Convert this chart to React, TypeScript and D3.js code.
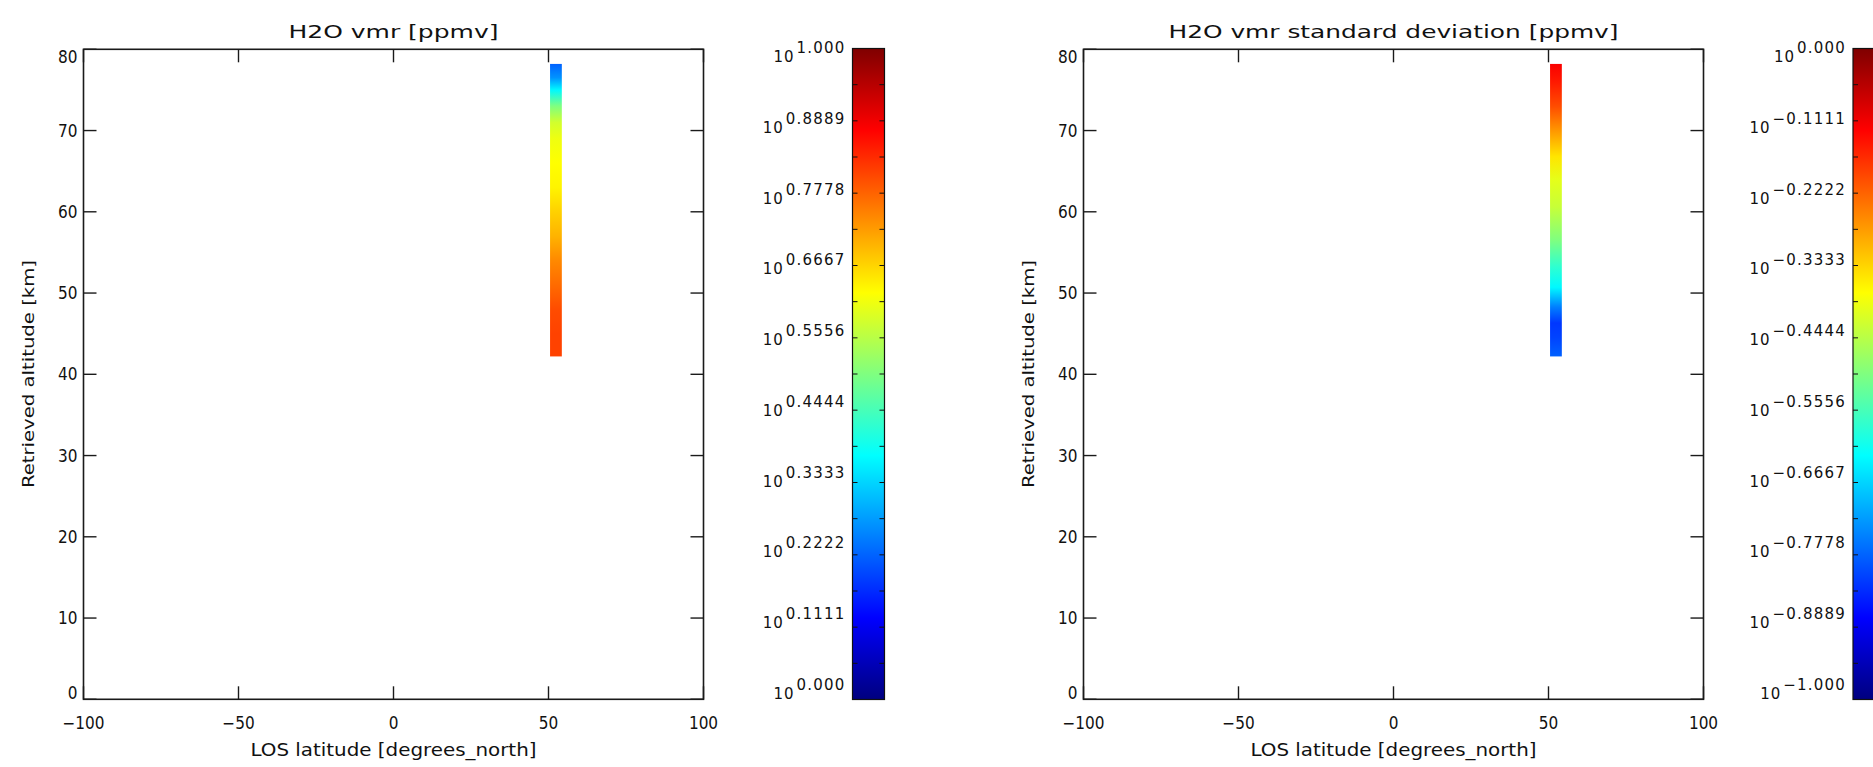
import React from 'react';
import * as d3 from 'd3';

// ---- data ----
const latTicks = [-100, -50, 0, 50, 100];
const altTicks = [0, 10, 20, 30, 40, 50, 60, 70, 80];
const profileLat = 52.4;
const profileLatWidth = 3.8;

const vmrAltitudes = [42.2, 45, 48, 51, 54, 57, 60, 63, 66, 69, 71, 73, 75, 76.5, 78.2];
const vmrValues = [6.46, 6.46, 6.31, 5.89, 5.5, 5.01, 4.68, 4.32, 4.22, 4.07, 3.8, 3.16, 2.34, 1.86, 1.66];

const sdAltitudes = [42.2, 44.5, 46.3, 48.3, 50.7, 53.2, 56.5, 60.6, 63.9, 66.8, 69.7, 73, 76, 78.2];
const sdValues = [0.166, 0.155, 0.151, 0.178, 0.234, 0.263, 0.316, 0.372, 0.398, 0.447, 0.525, 0.631, 0.708, 0.759];

const vmrBarLabels = ['0.000', '0.1111', '0.2222', '0.3333', '0.4444', '0.5556', '0.6667', '0.7778', '0.8889', '1.000'];
const sdBarLabels = ['\u22121.000', '\u22120.8889', '\u22120.7778', '\u22120.6667', '\u22120.5556', '\u22120.4444', '\u22120.3333', '\u22120.2222', '\u22120.1111', '0.000'];

const jetStops = [0, 0.125, 0.375, 0.625, 0.875, 1];
const jetColors = ['#00007f', '#0000ff', '#00ffff', '#ffff00', '#ff0000', '#7f0000'];

// ---- layout ----
const W = 1873;
const H = 767;
const PLOT_W = 620;
const TOP = 49.3;
const BOTTOM = 699.3;
const FONT = "'DejaVu Sans Condensed', 'DejaVu Sans', sans-serif";
const CB_FONT = "'DejaVu Sans', sans-serif";

const jet = d3.scaleLinear<string>().domain(jetStops).range(jetColors).interpolate(d3.interpolateRgb);

type PanelProps = {
  id: string;
  x0: number;
  cbX: number;
  title: string;
  titleLen: number;
  altitudes: number[];
  values: number[];
  logDomain: [number, number];
  cbLabels: string[];
};

function Panel({ id, x0, cbX, title, titleLen, altitudes, values, logDomain, cbLabels }: PanelProps) {
  const x = d3.scaleLinear().domain([-100, 100]).range([x0, x0 + PLOT_W]);
  const y = d3.scaleLinear().domain([0, 80]).range([BOTTOM, TOP]);
  const colorT = d3.scaleLog().domain(logDomain).range([0, 1]).clamp(true);
  const cx = x0 + PLOT_W / 2;
  const tickLen = 13;

  const aMin = d3.min(altitudes) as number;
  const aMax = d3.max(altitudes) as number;
  const barTop = y(aMax);
  const barBot = y(aMin);
  const bx0 = x(profileLat - profileLatWidth / 2);
  const bx1 = x(profileLat + profileLatWidth / 2);

  const profStops = altitudes
    .map((a, i) => ({ off: (y(a) - barTop) / (barBot - barTop), col: jet(colorT(values[i])) }))
    .sort((p, q) => p.off - q.off);

  // colorbar
  const cbTop = 48.5;
  const cbBot = 699.5;
  const cbW = 32;
  const cbY = d3.scaleLinear().domain([0, 1]).range([cbBot, cbTop]);
  const labY = d3.scaleLinear().domain([0, 1]).range([690, 53]);
  const cbTicks = d3.range(19).map((i) => i / 18);
  const cbStops = jetStops.map((t, i) => ({ off: 1 - t, col: jetColors[i] })).sort((p, q) => p.off - q.off);

  return (
    <g>
      <defs>
        <linearGradient id={`prof-${id}`} x1="0" y1="0" x2="0" y2="1">
          {profStops.map((s, i) => (
            <stop key={i} offset={s.off} stopColor={s.col} />
          ))}
        </linearGradient>
        <linearGradient id={`cb-${id}`} x1="0" y1="0" x2="0" y2="1">
          {cbStops.map((s, i) => (
            <stop key={i} offset={s.off} stopColor={s.col} />
          ))}
        </linearGradient>
      </defs>

      {/* profile */}
      <rect x={bx0} y={barTop} width={bx1 - bx0} height={barBot - barTop} fill={`url(#prof-${id})`} />

      {/* frame */}
      <rect x={x0} y={TOP} width={PLOT_W} height={BOTTOM - TOP} fill="none" stroke="#1a1a1a" strokeWidth={1.6} />

      {/* x ticks */}
      {latTicks.map((t) => (
        <g key={`xt${t}`}>
          <line x1={x(t)} x2={x(t)} y1={BOTTOM} y2={BOTTOM - tickLen} stroke="#1a1a1a" strokeWidth={1.4} />
          <line x1={x(t)} x2={x(t)} y1={TOP} y2={TOP + tickLen} stroke="#1a1a1a" strokeWidth={1.4} />
          <text x={x(t)} y={729} textAnchor="middle" fontFamily={FONT} fontSize={17} fill="#111">
            {t < 0 ? `\u2212${Math.abs(t)}` : `${t}`}
          </text>
        </g>
      ))}

      {/* y ticks */}
      {altTicks.map((t) => {
        const ly = Math.min(Math.max(y(t), TOP + 8), BOTTOM - 6);
        return (
          <g key={`yt${t}`}>
            <line x1={x0} x2={x0 + tickLen} y1={y(t)} y2={y(t)} stroke="#1a1a1a" strokeWidth={1.4} />
            <line x1={x0 + PLOT_W} x2={x0 + PLOT_W - tickLen} y1={y(t)} y2={y(t)} stroke="#1a1a1a" strokeWidth={1.4} />
            <text x={x0 - 6} y={ly} textAnchor="end" dominantBaseline="central" fontFamily={FONT} fontSize={17} fill="#111">
              {t}
            </text>
          </g>
        );
      })}

      {/* titles */}
      <text x={cx} y={38} textAnchor="middle" fontFamily={FONT} fontSize={18} fill="#111" textLength={titleLen} lengthAdjust="spacingAndGlyphs">
        {title}
      </text>
      <text x={cx} y={756} textAnchor="middle" fontFamily={FONT} fontSize={17} fill="#111" textLength={286} lengthAdjust="spacingAndGlyphs">
        LOS latitude [degrees_north]
      </text>
      <text
        transform={`translate(${x0 - 55},374) rotate(-90)`}
        textAnchor="middle"
        dominantBaseline="central"
        fontFamily={FONT}
        fontSize={16}
        fill="#111"
        textLength={228}
        lengthAdjust="spacingAndGlyphs"
      >
        Retrieved altitude [km]
      </text>

      {/* colorbar */}
      <rect x={cbX} y={cbTop} width={cbW} height={cbBot - cbTop} fill={`url(#cb-${id})`} stroke="#111" strokeWidth={1.2} />
      {cbTicks.map((t, i) => (
        <g key={`cbt${i}`}>
          <line x1={cbX} x2={cbX + 5} y1={cbY(t)} y2={cbY(t)} stroke="#111" strokeWidth={1} />
          <line x1={cbX + cbW} x2={cbX + cbW - 5} y1={cbY(t)} y2={cbY(t)} stroke="#111" strokeWidth={1} />
        </g>
      ))}
      {cbLabels.map((lab, i) => {
        const t = i / (cbLabels.length - 1);
        const sy = labY(t);
        return (
          <text key={`cbl${i}`} x={cbX - 7} y={sy + 9} textAnchor="end" fontFamily={CB_FONT} fontSize={15} fill="#111">
            <tspan letterSpacing={1}>10</tspan>
            <tspan dx={2} dy={-9} letterSpacing={1.2}>
              {lab}
            </tspan>
          </text>
        );
      })}
    </g>
  );
}

export default function App() {
  return (
    <svg
      width={W}
      height={H}
      viewBox={`0 0 ${W} ${H}`}
      style={{ position: 'absolute', left: 0, top: 0, background: '#fff' }}
    >
      <rect x={0} y={0} width={W} height={H} fill="#fff" />
      <Panel
        id="vmr"
        x0={83.5}
        cbX={852.5}
        title="H2O vmr [ppmv]"
        titleLen={210}
        altitudes={vmrAltitudes}
        values={vmrValues}
        logDomain={[1, 10]}
        cbLabels={vmrBarLabels}
      />
      <Panel
        id="sd"
        x0={1083.5}
        cbX={1853}
        title="H2O vmr standard deviation [ppmv]"
        titleLen={450}
        altitudes={sdAltitudes}
        values={sdValues}
        logDomain={[0.1, 1]}
        cbLabels={sdBarLabels}
      />
    </svg>
  );
}
